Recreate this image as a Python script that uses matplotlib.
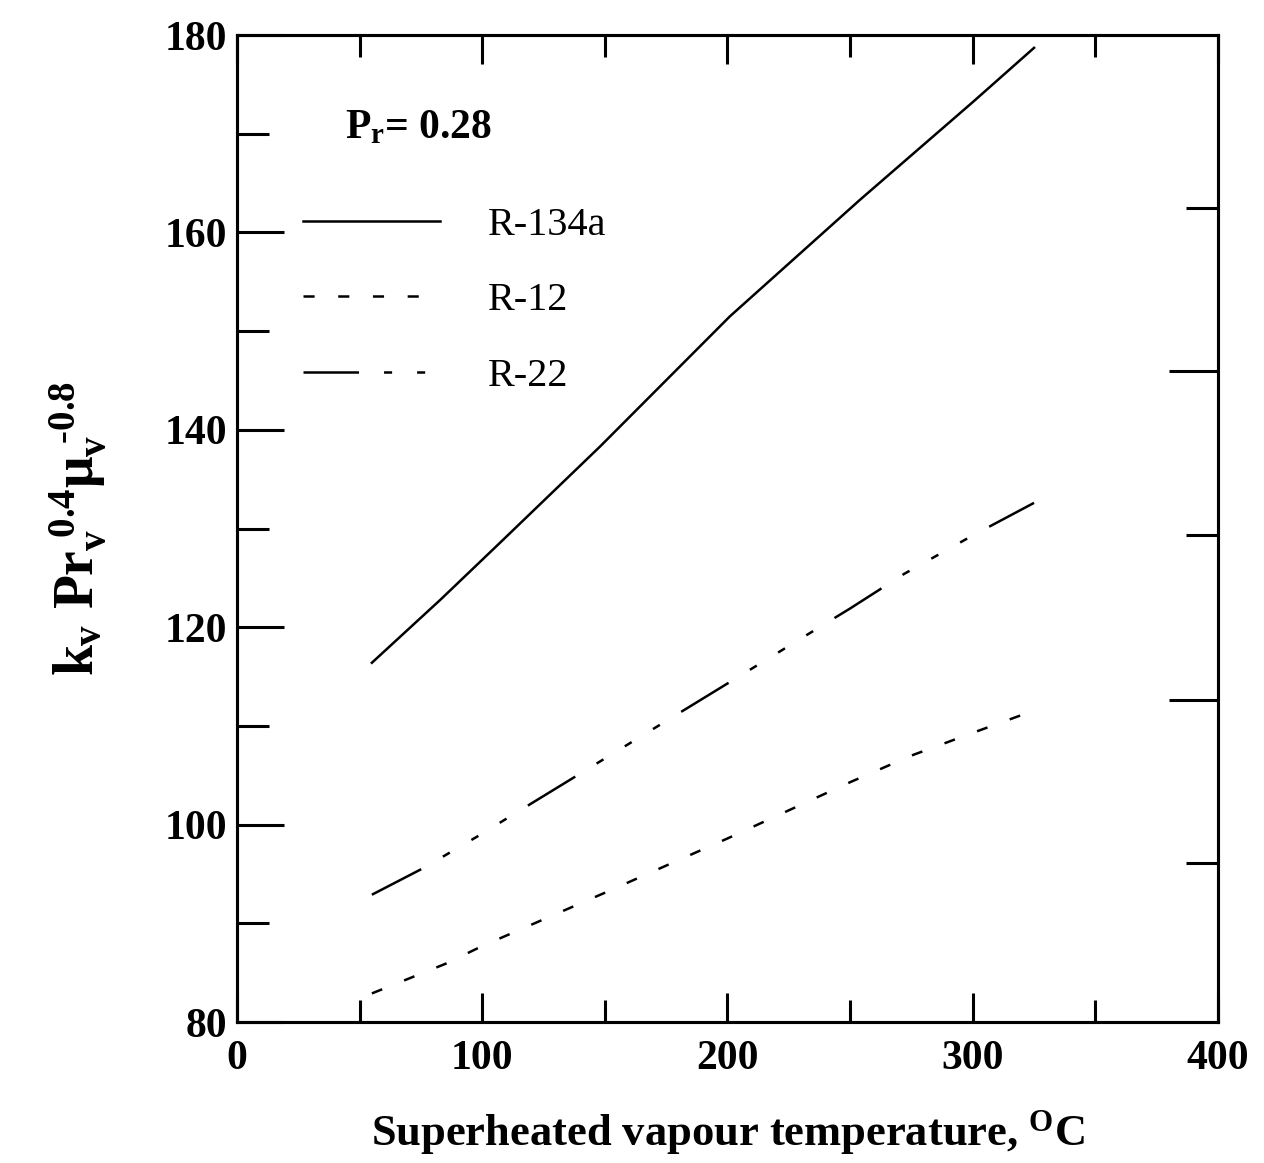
import matplotlib
matplotlib.use('Agg')
import matplotlib.pyplot as plt
from matplotlib.ticker import MultipleLocator, FixedLocator, NullFormatter

plt.rcParams['font.family'] = ['Liberation Serif', 'DejaVu Serif']
plt.rcParams['mathtext.fontset'] = 'custom'
plt.rcParams['mathtext.rm'] = 'Liberation Serif:bold'
plt.rcParams['mathtext.it'] = 'Liberation Serif:bold'
plt.rcParams['mathtext.bf'] = 'Liberation Serif:bold'
plt.rcParams['lines.scale_dashes'] = False

# data (temperature in deg C)
t_134a = [55, 83, 107, 148, 201, 254, 300, 325]
y_134a = [116.4, 122.8, 128.5, 138.3, 151.5, 163.3, 173.2, 178.7]

t_12 = [55, 70, 85, 100, 150, 200, 250, 275, 300, 321]
y_12 = [82.9, 84.4, 85.9, 87.7, 93.1, 98.6, 104.3, 107.0, 109.3, 111.2]

t_22 = [55, 76, 98, 150, 200, 250, 272, 300, 325]
y_22 = [92.9, 95.6, 98.8, 106.7, 114.3, 121.9, 125.4, 129.3, 132.6]

# odd unlabelled ticks on the right-hand frame
right_long = [112.6, 146.0]
right_short = [96.1, 129.3, 162.5]

fig = plt.figure(figsize=(12.64, 11.63), dpi=100)
ax = fig.add_axes([0.1875, 0.1212, 0.7761, 0.8487])

lw = 1.8
ax.plot(t_134a, y_134a, color='black', lw=lw, label='R-134a')
ax.plot(t_12, y_12, color='black', lw=lw, linestyle=(0, (8, 17)), label='R-12')
ax.plot(t_22, y_22, color='black', lw=lw,
        linestyle=(0, (40, 18, 5.8, 18, 5.8, 18, 5.8, 18)), label='R-22')

ax.set_xlim(0, 400)
ax.set_ylim(80, 180)
ax.xaxis.set_major_locator(MultipleLocator(100))
ax.xaxis.set_minor_locator(MultipleLocator(50))
ax.yaxis.set_major_locator(MultipleLocator(20))
ax.yaxis.set_minor_locator(MultipleLocator(10))

for s in ax.spines.values():
    s.set_linewidth(2.2)

ax.tick_params(axis='x', which='major', direction='in', length=21, width=2.2,
               top=True, bottom=True, pad=13, labelsize=30)
ax.tick_params(axis='x', which='minor', direction='in', length=16, width=2.2,
               top=True, bottom=True)
ax.tick_params(axis='y', which='major', direction='in', length=34, width=2.2,
               left=True, right=False, pad=7, labelsize=30)
ax.tick_params(axis='y', which='minor', direction='in', length=23, width=2.2,
               left=True, right=False)
for lab in ax.get_xticklabels() + ax.get_yticklabels():
    lab.set_fontweight('bold')

ax2 = ax.twinx()
ax2.set_ylim(80, 180)
ax2.yaxis.set_major_locator(FixedLocator(right_long))
ax2.yaxis.set_minor_locator(FixedLocator(right_short))
ax2.yaxis.set_major_formatter(NullFormatter())
ax2.tick_params(axis='y', which='major', direction='in', length=35, width=2.2)
ax2.tick_params(axis='y', which='minor', direction='in', length=23, width=2.2)
for s in ax2.spines.values():
    s.set_linewidth(2.2)

ax.set_xlabel(r'Superheated vapour temperature, $^{\mathrm{O}}$C',
              fontsize=32, fontweight='bold', labelpad=22)
ax.set_ylabel(r'$k_v\ Pr_v^{\ 0.4}\mu_v^{\ \text{-}0.8}$', fontsize=40, labelpad=40)

ax.text(0.11, 0.905, r'$P_r$= 0.28', transform=ax.transAxes, fontsize=30,
        fontweight='bold', va='center', ha='left')

leg = ax.legend(loc='upper left', bbox_to_anchor=(0.067, 0.826), frameon=False,
                fontsize=29, handlelength=3.4, handletextpad=1.2,
                labelspacing=0.95, borderpad=0, borderaxespad=0)

fig.savefig('out.png', dpi=100)
